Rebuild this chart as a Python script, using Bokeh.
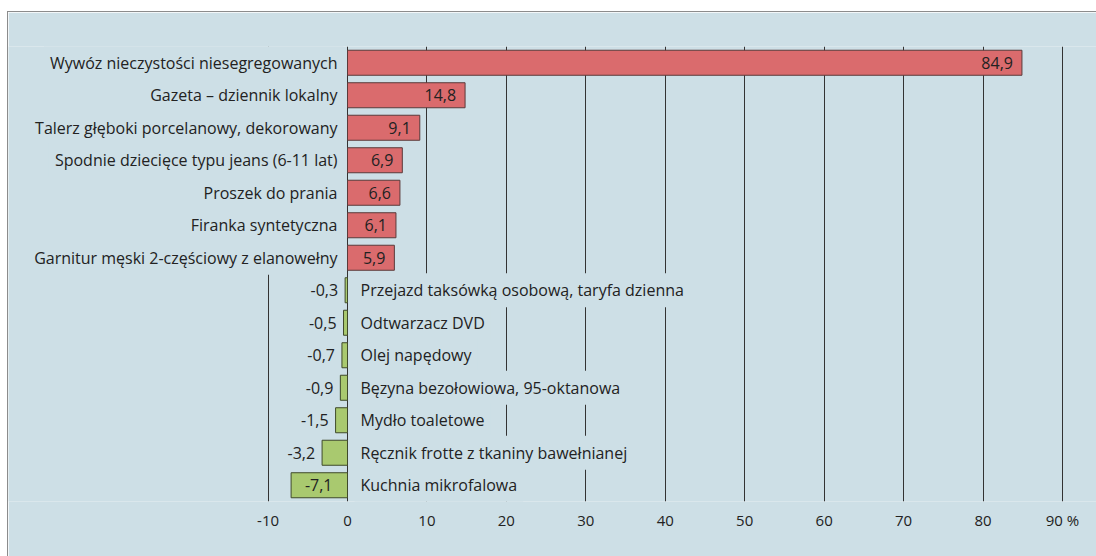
from bokeh.plotting import figure
from bokeh.models import ColumnDataSource, FactorRange, FixedTicker, Spacer
from bokeh.layouts import column, row
from bokeh.core.properties import value
from bokeh.embed import file_html
from bokeh.resources import INLINE

categories = [
    "Wywóz nieczystości niesegregowanych",
    "Gazeta – dziennik lokalny",
    "Talerz głęboki porcelanowy, dekorowany",
    "Spodnie dziecięce typu jeans (6-11 lat)",
    "Proszek do prania",
    "Firanka syntetyczna",
    "Garnitur męski 2-częściowy z elanowełny",
    "Przejazd taksówką osobową, taryfa dzienna",
    "Odtwarzacz DVD",
    "Olej napędowy",
    "Bęzyna bezołowiowa, 95-oktanowa",
    "Mydło toaletowe",
    "Ręcznik frotte z tkaniny bawełnianej",
    "Kuchnia mikrofalowa",
]
values = [84.9, 14.8, 9.1, 6.9, 6.6, 6.1, 5.9, -0.3, -0.5, -0.7, -0.9, -1.5, -3.2, -7.1]
tick_values = [-10, 0, 10, 20, 30, 40, 50, 60, 70, 80, 90]
tick_labels = {-10: "-10", 0: "0", 10: "10", 20: "20", 30: "30", 40: "40",
               50: "50", 60: "60", 70: "70", 80: "80", 90: "90 %"}

PANEL = "#cddfe6"
RED = "#da6b6d"
GREEN = "#a9c96f"
TXT = "#222222"
FONT = "Open Sans"
FS = "16px"

W = 1094
H = 551

pos = [v >= 0 for v in values]
src = ColumnDataSource(dict(
    cat=categories,
    val=values,
    fill=[RED if p_ else GREEN for p_ in pos],
    line=["#5a3a3a" if p_ else "#3f4a2a" for p_ in pos],
    lbl=[("%.1f" % v).replace(".", ",") for v in values],
    lx=[v if v > -5 else 0 for v in values],
    lxo=[-9 if v >= 0 else (-7 if v > -5 else -15) for v in values],
    nx=[0.0] * len(values),
    nxo=[-4 if p_ else 7 for p_ in pos],
    nalign=["right" if p_ else "left" for p_ in pos],
))

x_start = (8 - 347) / 7.944
x_end = (8 + W - 347) / 7.944

p = figure(width=W, height=H, output_backend="svg", toolbar_location=None,
           y_range=FactorRange(factors=categories[::-1], range_padding=0),
           x_range=(x_start, x_end), y_axis_location=None,
           min_border_left=0, min_border_right=0, min_border_top=34, min_border_bottom=H - 34 - 455)
p.background_fill_color = PANEL
p.border_fill_color = PANEL
p.outline_line_color = None
p.styles = {"border-top": "1px solid #8c8c8c", "border-left": "1px solid #8c8c8c"}

p.xgrid.ticker = FixedTicker(ticks=tick_values)
p.xgrid.grid_line_color = "#333333"
p.xgrid.grid_line_width = 1
p.ygrid.grid_line_color = None

ax = p.xaxis[0]
ax.ticker = FixedTicker(ticks=tick_values)
ax.major_label_overrides = tick_labels
ax.axis_line_color = None
ax.major_tick_line_color = None
ax.minor_tick_line_color = None
ax.major_label_standoff = 2
ax.major_label_text_font = FONT
ax.major_label_text_font_size = "15px"
ax.major_label_text_color = TXT

p.hbar(y="cat", left=0, right="val", height=0.77, source=src,
       fill_color="fill", line_color="line", line_width=1)

p.text(x="nx", y="cat", text="cat", x_offset="nxo", text_align="nalign",
       text_baseline="middle", text_font=value(FONT), text_font_size=FS,
       text_color=TXT, background_fill_color=PANEL, padding=6, source=src)

p.text(x="lx", y="cat", text="lbl", x_offset="lxo", text_align="right",
       text_baseline="middle", text_font=value(FONT), text_font_size=FS,
       text_color=TXT, source=src)

layout = row(Spacer(width=7, height=H + 11), column(Spacer(height=11, width=W), p, spacing=0), spacing=0)
open("out.html", "w").write(file_html(layout, INLINE))
